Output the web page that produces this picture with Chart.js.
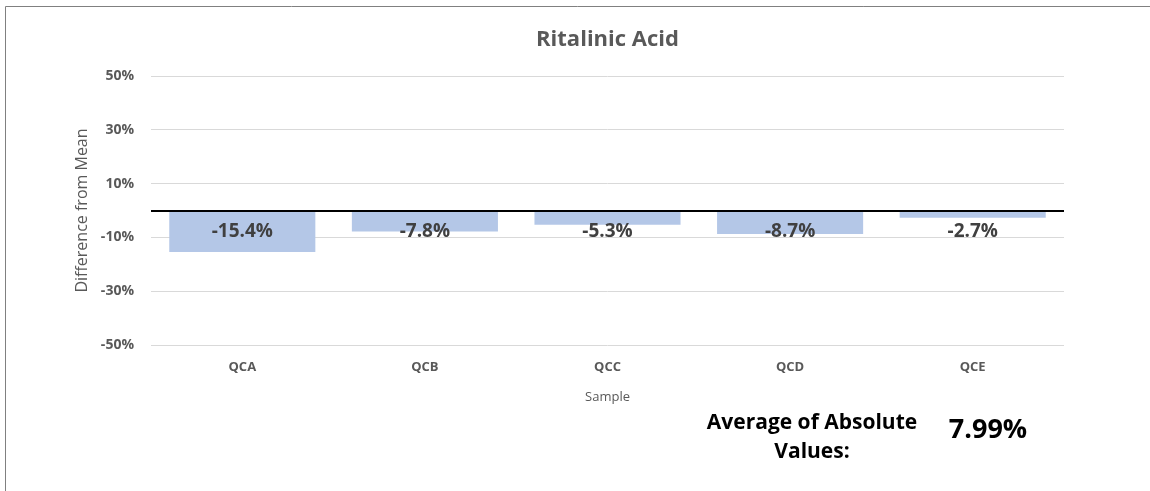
<!DOCTYPE html>
<html>
<head>
<meta charset="utf-8">
<script src="https://cdn.jsdelivr.net/npm/chart.js@4.4.1/dist/chart.umd.min.js"></script>
<style>
html,body{margin:0;padding:0;background:#fff;}
#wrap{position:relative;width:1150px;height:491px;}
</style>
</head>
<body>
<div id="wrap"><canvas id="c" width="1150" height="491"></canvas></div>
<script>
const chartTitle = "Ritalinic Acid";
const categories = ["QCA", "QCB", "QCC", "QCD", "QCE"];
const differences = [-15.4, -7.8, -5.3, -8.7, -2.7];
const yAxisTitle = "Difference from Mean";
const xAxisTitle = "Sample";
const averageLabel = ["Average of Absolute", "Values:"];
const averageValue = "7.99%";
const yMin = -50, yMax = 50, yStep = 20;
const labelAnchorValue = -8;

const FONT = "'Open Sans', sans-serif";

const decorPlugin = {
  id: 'decor',
  beforeDraw(chart) {
    const ctx = chart.ctx;
    ctx.save();
    ctx.strokeStyle = '#808080';
    ctx.lineWidth = 1;
    ctx.beginPath();
    ctx.moveTo(5.5, 491);
    ctx.lineTo(5.5, 6.5);
    ctx.lineTo(1150, 6.5);
    ctx.stroke();
    ctx.restore();
  },
  afterDatasetsDraw(chart) {
    const ctx = chart.ctx;
    const {left, right} = chart.chartArea;
    const y = chart.scales.y;
    const x = chart.scales.x;
    ctx.save();
    const y0 = Math.round(y.getPixelForValue(0));
    ctx.strokeStyle = '#000';
    ctx.lineWidth = 2;
    ctx.beginPath();
    ctx.moveTo(left, y0);
    ctx.lineTo(right, y0);
    ctx.stroke();
    ctx.fillStyle = '#404040';
    ctx.font = "bold 19px " + FONT;
    ctx.textAlign = 'center';
    ctx.textBaseline = 'middle';
    const ly = y.getPixelForValue(labelAnchorValue);
    differences.forEach((v, i) => {
      ctx.fillText(v.toFixed(1) + '%', x.getPixelForValue(i), ly);
    });
    ctx.fillStyle = '#595959';
    ctx.font = "bold 22px " + FONT;
    ctx.fillText(chartTitle, (left + right) / 2, 40);
    ctx.fillStyle = '#000';
    ctx.font = "bold 21px " + FONT;
    ctx.fillText(averageLabel[0], 812, 423);
    ctx.fillText(averageLabel[1], 812, 452);
    ctx.font = "bold 27px " + FONT;
    ctx.fillText(averageValue, 988, 430);
    ctx.restore();
  }
};

new Chart(document.getElementById('c'), {
  type: 'bar',
  data: {
    labels: categories,
    datasets: [{
      data: differences,
      backgroundColor: '#B4C7E7',
      borderWidth: 0,
      categoryPercentage: 1.0,
      barPercentage: 0.8
    }]
  },
  options: {
    responsive: false,
    animation: false,
    layout: { padding: { top: 76, right: 86, bottom: 0, left: 0 } },
    plugins: { legend: { display: false }, tooltip: { enabled: false }, title: { display: false } },
    scales: {
      x: {
        grid: { display: false, drawTicks: false },
        border: { display: false },
        ticks: { color: '#595959', font: { family: FONT, size: 13, weight: 'bold' }, padding: 14 },
        title: { display: true, text: xAxisTitle, color: '#595959', font: { family: FONT, size: 13 }, padding: { top: 0, bottom: 86 } },
        afterFit(s) { s.height = 146; }
      },
      y: {
        min: yMin, max: yMax,
        grid: { color: '#d9d9d9', lineWidth: 1, drawTicks: false },
        border: { display: false },
        ticks: { stepSize: yStep, color: '#595959', font: { family: FONT, size: 14, weight: 'bold' }, padding: 17,
                 callback: v => v + '%' },
        title: { display: true, text: yAxisTitle, color: '#595959', font: { family: FONT, size: 16 }, padding: { top: 73, bottom: 0 } },
        afterFit(s) { s.width = 151; }
      }
    }
  },
  plugins: [decorPlugin]
});
</script>
</body>
</html>
